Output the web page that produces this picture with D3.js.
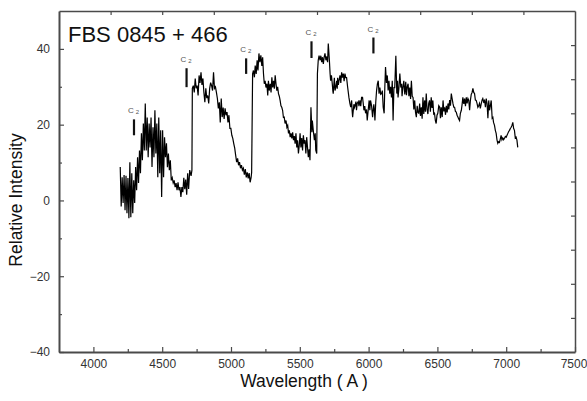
<!DOCTYPE html>
<head>
<meta charset="utf-8">
<style>
body { margin: 0; background: #fff; }
text { font-family: Arial, "Liberation Sans", sans-serif; }
</style>
</head>
<body>

<script src="https://d3js.org/d3.v7.min.js"></script>
<script>
// spectrum (wavelength in A, relative intensity)
var wavelength = [
  4195, 4202, 4209, 4216, 4223, 4230, 4237, 4244, 4251, 4258, 4265, 4272, 4279, 4286, 4293, 4300,
  4307, 4314, 4321, 4328, 4335, 4342, 4349, 4356, 4363, 4370, 4377, 4384, 4391, 4398, 4405, 4412,
  4419, 4426, 4433, 4440, 4447, 4454, 4461, 4468, 4475, 4482, 4489, 4496, 4503, 4510, 4517, 4524,
  4531, 4538, 4545, 4552, 4559, 4566, 4573, 4580, 4587, 4594, 4601, 4608, 4615, 4622, 4629, 4636,
  4643, 4650, 4657, 4664, 4671, 4678, 4685, 4692, 4700, 4710, 4716,
  4719, 4726, 4733, 4740, 4747, 4754, 4761, 4768, 4775, 4782, 4789, 4796, 4803, 4810, 4817, 4824,
  4831, 4838, 4845, 4852, 4859, 4866, 4873, 4880, 4887, 4894, 4901, 4908, 4915, 4922, 4929, 4936,
  4943, 4950, 4957, 4964, 4971, 4978, 4985, 4992, 4999, 5006, 5013, 5020, 5027, 5034, 5041, 5048,
  5055, 5062, 5069, 5076, 5083, 5090, 5097, 5104, 5111, 5118, 5125, 5132, 5139, 5146, 5150,
  5157, 5163, 5170, 5176, 5183, 5190, 5196, 5203, 5210, 5217, 5224, 5230, 5236, 5242, 5248, 5254,
  5261, 5267, 5272, 5278, 5285, 5291, 5297, 5303, 5309, 5315, 5321, 5327, 5333, 5339, 5345, 5351,
  5357, 5363, 5369, 5375, 5381, 5387, 5393, 5400, 5406, 5412, 5418, 5424, 5430, 5436, 5442, 5448,
  5454, 5460, 5466, 5472, 5478, 5484, 5490, 5496, 5502, 5508, 5514, 5520, 5526, 5532, 5538, 5544,
  5550, 5556, 5562, 5568, 5574, 5581, 5588, 5591, 5598, 5606, 5612, 5616, 5623, 5628, 5634,
  5640, 5647, 5653, 5659, 5665, 5671, 5677, 5683, 5690, 5696, 5702, 5707, 5715, 5720, 5724, 5730,
  5736, 5740, 5743, 5751, 5756, 5761, 5768, 5772, 5775, 5780, 5785, 5792, 5798, 5804, 5810, 5816,
  5822, 5828, 5834, 5840, 5848, 5857, 5864, 5870, 5877, 5880, 5884, 5893, 5897, 5901, 5908, 5912,
  5917, 5925, 5930, 5937, 5943, 5949, 5956, 5961, 5966, 5972, 5978, 5985, 5990, 5997, 6004, 6009,
  6014, 6022, 6029, 6034, 6038, 6042, 6046, 6052, 6058, 6064, 6070, 6076, 6082, 6088, 6094, 6100,
  6106, 6113, 6118, 6123, 6130, 6136, 6142, 6148, 6154, 6160, 6166, 6172, 6178, 6184, 6190, 6198,
  6205, 6210, 6214, 6220, 6227, 6234, 6240, 6243, 6250, 6256, 6263, 6270, 6275, 6281, 6287, 6293,
  6299, 6305, 6311, 6317, 6323, 6329, 6335, 6341, 6347, 6353, 6359, 6365, 6371, 6377, 6383, 6389,
  6395, 6401, 6407, 6413, 6419, 6425, 6431, 6437, 6443, 6449, 6455, 6461, 6467, 6473, 6479, 6485,
  6491, 6497, 6503, 6510, 6517, 6522, 6528, 6535, 6541, 6547, 6553, 6559, 6565, 6571, 6577, 6583,
  6589, 6595, 6601, 6607, 6613, 6619, 6625, 6631, 6637, 6643, 6649, 6655, 6661, 6667, 6674, 6680,
  6685, 6692, 6698, 6704, 6710, 6716, 6722, 6728, 6734, 6740, 6746, 6752, 6758, 6764, 6770, 6776,
  6782, 6788, 6794, 6800, 6806, 6812, 6819, 6825, 6830, 6836, 6843, 6849, 6855, 6861, 6867, 6873,
  6879, 6885, 6891, 6898, 6903, 6908, 6915, 6921, 6927, 6933, 6939, 6945, 6951, 6957, 6963, 6969,
  6975, 6981, 6988, 6994, 7000, 7006, 7012, 7018, 7024, 7030, 7036, 7042, 7048, 7054, 7060, 7066,
  7072, 7078, 7084
];
var intensity = [
  8.8, -1.6, 6.1, -0.7, 6.7, -2.6, 6.5, -3.4, 5.9, -4.7, 10.1, -4.4, 7.2, -3.4, 5.3, -0.7,
  8.8, 2.7, 11.4, 4.6, 13.2, 7.2, 17.7, 10.6, 20.3, 13.2, 25.6, 13.2, 21.9, 11.4, 20.3, 14.0,
  21.9, 8.8, 19.3, 11.4, 23.8, 12.4, 20.3, 6.1, 21.9, 7.2, 18.5, 0.9, 18.5, 6.1, 16.7, 11.4,
  15.1, 8.8, 12.4, 8.0, 10.6, 5.3, 6.0, 4.6, 5.3, 3.5, 4.6, 2.7, 4.8, 2.7, 3.5, 0.9,
  3.5, 2.2, 6.0, 3.0, 5.5, 1.5, 7.2, 3.0, 8.0, 6.5, 8.0,
  29.6, 30.3, 28.5, 32.2, 29.6, 30.3, 27.7, 33.0, 31.0, 33.8, 30.5, 32.2, 28.5, 25.9, 29.6, 27.0,
  27.7, 25.6, 29.6, 31.1, 30.3, 29.0, 33.8, 29.6, 30.0, 28.5, 26.9, 24.3, 25.9, 20.6, 26.9, 22.0,
  24.5, 21.5, 24.3, 22.5, 23.3, 20.6, 22.5, 19.0, 19.0, 17.2, 16.4, 15.0, 13.8, 11.9, 10.1, 11.1,
  9.3, 10.1, 8.5, 9.3, 8.0, 8.5, 6.8, 8.3, 6.1, 7.4, 5.8, 7.2, 4.8, 6.0, 7.4,
  33.4, 34.3, 32.5, 35.6, 33.4, 37.0, 34.3, 38.8, 36.5, 38.3, 35.5, 37.8, 33.5, 30.8, 31.6, 29.8,
  30.8, 27.7, 31.6, 29.0, 30.8, 28.5, 32.5, 29.8, 31.6, 29.5, 33.0, 30.8, 29.0, 30.0, 28.2, 27.5,
  26.4, 25.0, 24.6, 23.8, 21.9, 22.0, 20.3, 21.1, 19.3, 19.8, 17.7, 18.5, 16.7, 17.7, 16.4, 18.0,
  15.9, 17.0, 15.0, 17.7, 14.0, 15.9, 12.4, 14.5, 17.7, 14.0, 16.5, 13.2, 17.2, 15.0, 15.9, 12.4,
  16.7, 14.0, 11.4, 13.5, 10.6, 24.6, 18.0, 21.1, 18.5, 15.9, 17.7, 13.3, 12.4, 33.5, 37.0,
  38.2, 37.0, 38.2, 36.5, 37.8, 36.0, 37.8, 38.8, 37.0, 38.0, 36.5, 41.4, 37.0, 33.5, 31.6, 33.0,
  30.8, 29.0, 28.2, 32.4, 29.0, 29.8, 31.6, 29.5, 32.4, 30.5, 31.6, 33.0, 31.0, 33.8, 32.4, 33.5,
  31.5, 33.5, 32.4, 32.4, 29.8, 27.2, 25.6, 24.6, 26.4, 23.8, 22.0, 25.4, 24.5, 24.9, 26.1, 23.8,
  25.6, 26.1, 24.9, 26.4, 24.9, 27.2, 27.2, 25.6, 23.8, 24.9, 23.0, 24.0, 21.1, 23.8, 26.4, 23.8,
  26.4, 24.9, 22.0, 24.0, 25.4, 23.8, 21.1, 26.0, 29.0, 30.8, 31.6, 28.2, 29.8, 28.0, 28.2, 29.0,
  24.6, 23.0, 30.0, 35.2, 31.0, 33.0, 29.0, 31.6, 28.2, 30.0, 27.2, 31.6, 21.1, 29.8, 29.8, 38.2,
  28.2, 31.6, 27.2, 29.5, 33.5, 29.8, 30.8, 27.5, 30.0, 31.6, 28.0, 31.3, 27.8, 30.0, 30.8, 27.5,
  29.8, 26.8, 31.6, 27.5, 27.2, 24.0, 26.4, 23.2, 22.0, 25.0, 23.2, 23.0, 25.6, 22.3, 24.6, 21.6,
  27.2, 22.8, 26.4, 23.4, 28.2, 24.0, 22.8, 25.6, 26.4, 23.4, 27.2, 24.4, 26.4, 22.8, 23.0, 21.1,
  20.3, 22.5, 23.0, 25.0, 24.6, 21.7, 24.6, 22.0, 26.4, 23.5, 24.6, 22.6, 25.0, 23.2, 25.6, 24.0,
  26.5, 25.0, 28.2, 26.9, 25.6, 24.6, 24.6, 23.5, 23.3, 22.5, 22.0, 21.5, 21.1, 23.0, 23.8, 25.5,
  27.2, 25.5, 26.9, 24.9, 27.2, 25.6, 26.9, 26.4, 23.8, 26.5, 28.0, 28.5, 29.6, 28.5, 28.2, 26.5,
  26.4, 25.6, 24.6, 25.0, 25.6, 24.3, 25.6, 26.5, 26.9, 26.0, 26.4, 24.6, 26.9, 25.6, 21.7, 26.4,
  23.8, 25.0, 26.4, 21.7, 21.9, 20.6, 19.8, 18.5, 17.7, 16.0, 15.1, 15.5, 15.3, 16.2, 17.2, 16.0,
  16.5, 16.0, 16.4, 16.9, 16.7, 17.2, 17.7, 18.2, 18.5, 19.0, 19.3, 19.8, 20.6, 19.0, 18.5, 16.5,
  16.7, 15.9, 14.0
];

// C2 band markers
var c2Wave = [4295, 4677, 5110, 5585, 6035];
var c2Top = [21.4, 34.9, 37.5, 42.0, 43.0];
var c2Bottom = [17.2, 29.9, 33.4, 37.6, 38.8];

var xTicks = [4000, 4500, 5000, 5500, 6000, 6500, 7000, 7500];
var xMinor = [4250, 4750, 5250, 5750, 6250, 6750, 7250];
var yTicks = [-40, -20, 0, 20, 40];
var yMinor = [-30, -10, 10, 30];

var width = 587, height = 401;
var axisColor = "#4a4a4a";

var svg = d3.select("body").append("svg")
    .attr("width", width)
    .attr("height", height);

var x = d3.scaleLinear().domain([3750, 7500]).range([59, 575]);
var y = d3.scaleLinear().domain([-40, 50]).range([352, 11]);
// the top and right edges carry ten plain divisions
var xTop = d3.scaleLinear().domain([0, 10]).range([59, 575]);
var yRight = d3.scaleLinear().domain([0, 10]).range([352, 11]);

function styleAxis(g, w) {
    g.select(".domain").attr("stroke", axisColor).attr("stroke-width", w);
    g.selectAll(".tick line").attr("stroke", axisColor).attr("stroke-width", 1.2);
    g.selectAll(".tick text").attr("fill", "#333").attr("font-size", 12)
        .attr("font-family", "Arial, 'Liberation Sans', sans-serif");
}

var gTop = svg.append("g").attr("transform", "translate(0,11)")
    .call(d3.axisTop(xTop).tickValues(d3.range(1, 10)).tickSize(-4).tickSizeOuter(0).tickFormat(""));
styleAxis(gTop, 1.5);

var gRight = svg.append("g").attr("transform", "translate(575,0)")
    .call(d3.axisRight(yRight).tickValues(d3.range(1, 10)).tickSize(-4).tickSizeOuter(0).tickFormat(""));
styleAxis(gRight, 1.5);

var gxMinor = svg.append("g").attr("transform", "translate(0,352)")
    .call(d3.axisBottom(x).tickValues(xMinor).tickSize(-3).tickSizeOuter(0).tickFormat(""));
styleAxis(gxMinor, 0);

var gyMinor = svg.append("g").attr("transform", "translate(59,0)")
    .call(d3.axisLeft(y).tickValues(yMinor).tickSize(-3).tickSizeOuter(0).tickFormat(""));
styleAxis(gyMinor, 0);

var gx = svg.append("g").attr("transform", "translate(0,352)")
    .call(d3.axisBottom(x).tickValues(xTicks).tickSize(-5).tickSizeOuter(0).tickPadding(7).tickFormat(d3.format("d")));
styleAxis(gx, 2);
// last label sits against the window edge
gx.selectAll(".tick text").filter(function (d) { return d === 7500; }).attr("dx", -1.5);

var gy = svg.append("g").attr("transform", "translate(59,0)")
    .call(d3.axisLeft(y).tickValues(yTicks).tickSize(-5).tickSizeOuter(0).tickPadding(9));
styleAxis(gy, 2);

// spectrum
var line = d3.line()
    .x(function (i) { return x(wavelength[i]); })
    .y(function (i) { return y(intensity[i]); });

svg.append("path")
    .datum(d3.range(wavelength.length))
    .attr("d", line)
    .attr("fill", "none")
    .attr("stroke", "#000")
    .attr("stroke-width", 1.2)
    .attr("stroke-linejoin", "miter");

// C2 markers
c2Wave.forEach(function (w, i) {
    svg.append("line")
        .attr("x1", x(w)).attr("x2", x(w))
        .attr("y1", y(c2Top[i])).attr("y2", y(c2Bottom[i]))
        .attr("stroke", "#111")
        .attr("stroke-width", 2.2);
    var t = svg.append("text")
        .attr("x", x(w) - 6)
        .attr("y", y(c2Top[i]) - 6)
        .attr("font-size", 8)
        .attr("fill", "#555");
    t.append("tspan").text("C");
    t.append("tspan").attr("dx", 2).attr("dy", 1).attr("font-size", 6).text("2");
});

// title
svg.append("text")
    .attr("x", 68)
    .attr("y", 42)
    .attr("font-size", 22)
    .attr("fill", "#111")
    .text("FBS 0845 + 466");

// axis titles
svg.append("text")
    .attr("x", 304)
    .attr("y", 387)
    .attr("text-anchor", "middle")
    .attr("font-size", 17.5)
    .attr("fill", "#111")
    .text("Wavelength ( A )");

svg.append("text")
    .attr("transform", "translate(22,200) rotate(-90)")
    .attr("text-anchor", "middle")
    .attr("font-size", 17.5)
    .attr("fill", "#111")
    .text("Relative Intensity");
</script>
</body>
